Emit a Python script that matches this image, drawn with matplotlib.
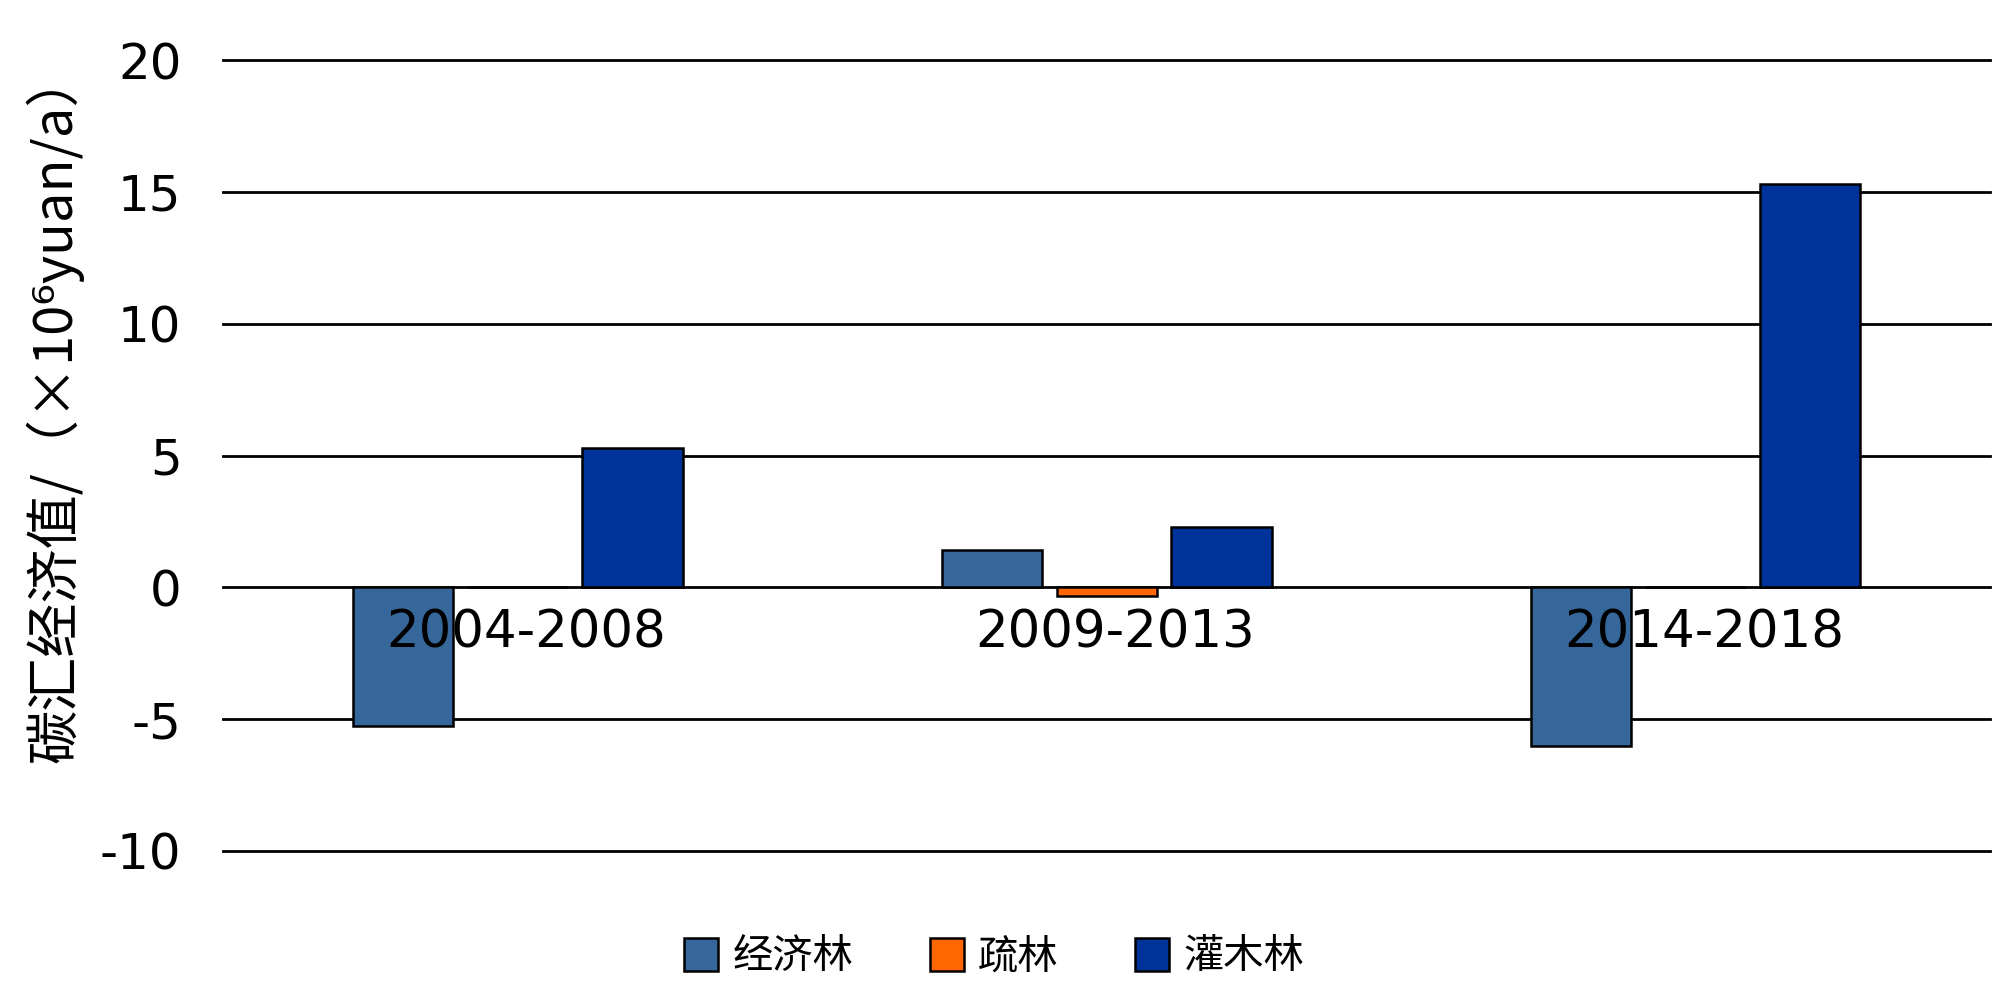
import numpy as np
import matplotlib
matplotlib.use('Agg')
import matplotlib.pyplot as plt

periods = ['2004-2008', '2009-2013', '2014-2018']
series_names = ['经济林', '疏林', '灌木林']
jingjilin = [-5.25, 1.42, -6.0]
shulin = [0.0, -0.34, 0.0]
guanmulin = [5.3, 2.28, 15.3]
colors = ['#35679a', '#ff6600', '#003399']
yticks = [-10, -5, 0, 5, 10, 15, 20]

cjk = ['Noto Sans CJK SC', 'DejaVu Sans']

fig = plt.figure(figsize=(20, 10.02), dpi=100)
ax = fig.add_axes([0.1116, 0.1507, 0.8834, 0.7893])

x = np.arange(len(periods)) + 0.5
w = 0.17
offs = [-0.195, 0, 0.195]
for vals, off, c, name in zip([jingjilin, shulin, guanmulin], offs, colors, series_names):
    ax.bar(x + off, vals, width=w, color=c, edgecolor='black', linewidth=1.8,
           label=name, zorder=3)

# horizontal grid lines
for yv in yticks:
    ax.axhline(yv, color='black', lw=2, zorder=2, clip_on=False)

ax.set_xlim(0, 3)
ax.set_ylim(-10, 20)
ax.set_xticks([])
ax.set_yticks(yticks)
ax.set_yticklabels([str(v) for v in yticks], fontsize=36, family='DejaVu Sans')
ax.tick_params(axis='y', length=0, pad=30)
for s in ax.spines.values():
    s.set_visible(False)

# category labels sit inside the plot just under the zero line
for xi, p in zip(x, periods):
    ax.text(xi + 0.015, -1.75, p, ha='center', va='center', fontsize=37,
            family='DejaVu Sans', zorder=4)

fig.text(0.027, 0.594, '碳汇经济值/（×10⁶yuan/a）', rotation=90, ha='center',
         va='center', fontsize=39, family=cjk)

fig.legend(loc='center', bbox_to_anchor=(0.497, 0.045), ncol=3, frameon=False,
           prop={'family': cjk, 'size': 29}, handlelength=0.85, handleheight=0.85,
           handletextpad=0.35, columnspacing=1.9)

plt.savefig('out.png', dpi=100)
